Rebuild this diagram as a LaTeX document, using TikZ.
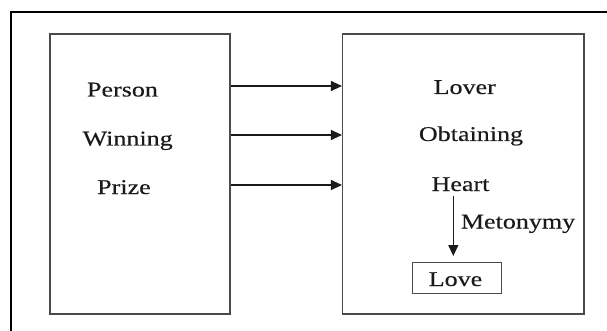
\documentclass[tikz,border=0pt]{standalone}
\usepackage{fontspec}
\setmainfont{Liberation Serif}[FakeStretch=1.24,FakeBold=0.3]
\usetikzlibrary{arrows.meta}
\definecolor{boxgray}{HTML}{4A4A4A}
\definecolor{inkc}{HTML}{1A1A1A}
\begin{document}
\begin{tikzpicture}[x=1pt,y=-1pt,
  panel/.style={draw=boxgray, line width=1.4pt, inner sep=0pt},
  lbl/.style={anchor=base, inner sep=0pt, text=inkc, font=\fontsize{21}{25}\selectfont},
  arr/.style={draw=inkc, line width=1.1pt, -{Triangle[length=11pt,width=10pt]}},
  frameline/.style={line width=2pt}]
\useasboundingbox (0,0) rectangle (607,331);
\clip (0,0) rectangle (607,331);
\draw[frameline] (620,11.7) -- (10.7,11.7) -- (10.7,345);
\node[panel, minimum width=180pt, minimum height=280pt] (leftbox) at (140,174) {};
\node[panel, minimum width=241.3pt, minimum height=280pt] (rightbox) at (463.3,174) {};
\node[lbl] (person) at (122.5,96.5) {Person};
\node[lbl] (winning) at (127.7,145.5) {Winning};
\node[lbl] (prize) at (124,194) {Prize};
\node[lbl] (lover) at (464.7,94) {Lover};
\node[lbl] (obtaining) at (471,141) {Obtaining};
\node[lbl] (heart) at (460.5,191) {Heart};
\node[lbl, anchor=base west] (meto) at (460.7,228.5) {Metonymy};
\node[panel, minimum width=89.4pt, minimum height=31pt] (lovebox) at (457,277.8) {};
\node[lbl] (love) at (455.5,286) {Love};
\coordinate (r1) at (0,86);
\coordinate (r2) at (0,135);
\coordinate (r3) at (0,185);
\draw[arr] (leftbox.east |- r1) -- (rightbox.west |- r1);
\draw[arr] (leftbox.east |- r2) -- (rightbox.west |- r2);
\draw[arr] (leftbox.east |- r3) -- (rightbox.west |- r3);
\coordinate (m1) at (453.3,196);
\coordinate (m2) at (453.3,256);
\draw[arr] (m1) -- (m2);
\end{tikzpicture}
\end{document}
